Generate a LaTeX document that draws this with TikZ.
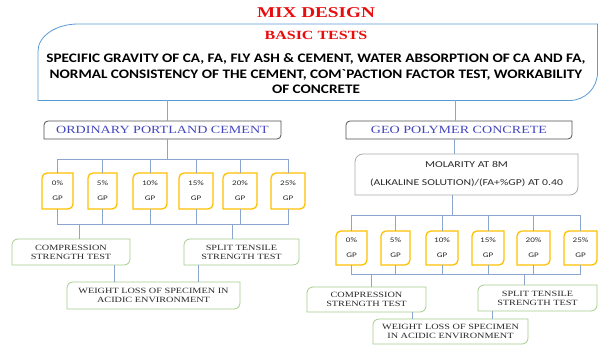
\documentclass[tikz,border=0pt]{standalone}
\usepackage{fontspec}
\setmainfont{Liberation Serif}
\newfontfamily\titlefont[FakeStretch=1.28]{Liberation Serif}
\newfontfamily\labelfont[FakeStretch=1.28]{Liberation Serif}
\newfontfamily\bodyfont[FakeStretch=1.17]{Carlito}
\newfontfamily\smallfont[FakeStretch=1.3]{Carlito}

\definecolor{titlered}{RGB}{232,12,12}
\definecolor{mainblue}{RGB}{91,155,213}
\definecolor{headgray}{RGB}{80,80,80}
\definecolor{headtext}{RGB}{68,70,190}
\definecolor{gold}{RGB}{255,192,0}
\definecolor{leaf}{RGB}{165,205,140}
\definecolor{molgray}{RGB}{170,170,170}
\definecolor{linkblue}{RGB}{140,165,205}
\definecolor{labeltext}{RGB}{40,40,40}

% frame with rounded top-left and bottom-right corners
\newcommand{\diagframe}[3]{%
  \draw[#3] (#1.north east) -- ([xshift=#2]#1.north west)
    arc[start angle=90,end angle=180,radius=#2] -- (#1.south west)
    -- ([xshift=-#2]#1.south east)
    arc[start angle=270,end angle=360,radius=#2] -- cycle;}

\begin{document}
\begin{tikzpicture}[x=1pt,y=-1pt,
  every node/.style={inner sep=0pt,outer sep=0pt},
  link/.style={draw=linkblue,line width=0.8pt},
  headbox/.style={minimum height=18pt,text=headtext,
    font=\labelfont\fontsize{11}{12}\selectfont},
  gpbox/.style={align=center,font=\smallfont\fontsize{7}{15}\selectfont,
    text=labeltext},
  leafbox/.style={align=center,font=\labelfont\fontsize{8}{9}\selectfont,
    text=labeltext},
]
\useasboundingbox (0,0) rectangle (598,345);

% ---------- heading and basic tests ----------
\node[font=\titlefont\bfseries\fontsize{15}{16}\selectfont,text=titlered]
  (title) at (316,13) {MIX DESIGN};
\node[minimum width=559.5pt,minimum height=76.5pt] (bigbox) at (317.75,62.25) {};
\draw[draw=mainblue,line width=0.8pt]
  (bigbox.north east) -- ([xshift=40pt]bigbox.north west)
  arc[start angle=90,end angle=180,x radius=40pt,y radius=27pt]
  -- (bigbox.south west) -- ([xshift=-28pt]bigbox.south east)
  arc[start angle=270,end angle=360,radius=28pt] -- cycle;
\node[font=\titlefont\bfseries\fontsize{12.5}{13}\selectfont,text=titlered]
  (basic) at (316,35) {BASIC TESTS};
\node[align=center,font=\bodyfont\bfseries\fontsize{13}{15.5}\selectfont]
  (tests) at (316,74) {SPECIFIC GRAVITY OF CA, FA, FLY ASH \& CEMENT, WATER ABSORPTION OF CA AND FA,\\
  NORMAL CONSISTENCY OF THE CEMENT, COM\char"60 PACTION FACTOR TEST, WORKABILITY\\
  OF CONCRETE};

% ---------- ordinary portland cement branch ----------
\node[headbox,minimum width=237pt] (opc) at (162.5,130) {ORDINARY PORTLAND CEMENT};
\node[gpbox,minimum width=31pt,minimum height=36pt] (o1) at (57.5,191) {0\%\\GP};
\node[gpbox,minimum width=29pt,minimum height=36pt] (o2) at (102.5,191) {5\%\\GP};
\node[gpbox,minimum width=34pt,minimum height=36pt] (o3) at (150,191) {10\%\\GP};
\node[gpbox,minimum width=34pt,minimum height=36pt] (o4) at (196,191) {15\%\\GP};
\node[gpbox,minimum width=34pt,minimum height=36pt] (o5) at (240,191) {20\%\\GP};
\node[gpbox,minimum width=34pt,minimum height=36pt] (o6) at (288,191) {25\%\\GP};
\node[leafbox,minimum width=118pt,minimum height=26pt] (ocomp) at (71,252)
  {COMPRESSION\\STRENGTH TEST};
\node[leafbox,minimum width=115pt,minimum height=26pt] (osplit) at (241.5,252)
  {SPLIT TENSILE\\STRENGTH TEST};
\node[leafbox,minimum width=173pt,minimum height=27pt] (oweight) at (153.5,295.5)
  {WEIGHT LOSS OF SPECIMEN IN\\ACIDIC ENVIRONMENT};
\coordinate (obusA) at (0,159);
\coordinate (obusB) at (0,224);

% ---------- geo polymer concrete branch ----------
\node[headbox,minimum width=226pt] (gpc) at (459,130) {GEO POLYMER CONCRETE};
\node[align=center,minimum width=223pt,minimum height=41pt,
  font=\smallfont\fontsize{9}{18}\selectfont,text=labeltext] (mol) at (466.5,174.5)
  {MOLARITY AT 8M\\(ALKALINE SOLUTION)/(FA+\%GP) AT 0.40};
\node[gpbox,minimum width=31pt,minimum height=34pt] (g1) at (351.5,248) {0\%\\GP};
\node[gpbox,minimum width=29pt,minimum height=34pt] (g2) at (395.5,248) {5\%\\GP};
\node[gpbox,minimum width=32pt,minimum height=34pt] (g3) at (442,248) {10\%\\GP};
\node[gpbox,minimum width=32pt,minimum height=34pt] (g4) at (488,248) {15\%\\GP};
\node[gpbox,minimum width=33pt,minimum height=34pt] (g5) at (533.5,248) {20\%\\GP};
\node[gpbox,minimum width=33pt,minimum height=34pt] (g6) at (580.5,248) {25\%\\GP};
\node[leafbox,minimum width=119pt,minimum height=25pt] (gcomp) at (366.5,299.5)
  {COMPRESSION\\STRENGTH TEST};
\node[leafbox,minimum width=119pt,minimum height=26pt] (gsplit) at (537.5,298)
  {SPLIT TENSILE\\STRENGTH TEST};
\node[leafbox,minimum width=155pt,minimum height=25pt] (gweight) at (450.5,331.5)
  {WEIGHT LOSS OF SPECIMEN\\IN ACIDIC ENVIRONMENT};
\coordinate (gbusA) at (0,215);
\coordinate (gbusB) at (0,274);

% ---------- frames ----------
\diagframe{opc}{4pt}{draw=headgray,line width=0.8pt}
\diagframe{gpc}{4pt}{draw=headgray,line width=0.8pt}
\diagframe{mol}{8pt}{draw=molgray,line width=0.8pt}
\foreach \n in {o1,o2,o3,o4,o5,o6,g1,g2,g3,g4,g5,g6}
  {\diagframe{\n}{5pt}{draw=gold,line width=1.3pt}}
\foreach \n in {ocomp,osplit,oweight,gcomp,gsplit,gweight}
  {\diagframe{\n}{6pt}{draw=leaf,line width=0.8pt}}

% ---------- connectors: main box ----------
\draw[link] ([xshift=4.5pt]opc.north) -- ([xshift=4.5pt]opc.north |- bigbox.south);
\draw[link] ([xshift=-4pt]gpc.north) -- ([xshift=-4pt]gpc.north |- bigbox.south);

% ---------- connectors: OPC branch ----------
\draw[link] ([xshift=5pt]opc.south) -- ([xshift=5pt]opc.south |- obusA);
\draw[link] (o1.north) -- (o1.north |- obusA) -- (o6.north |- obusA) -- (o6.north);
\foreach \k in {2,...,5} {\draw[link] (o\k.north) -- (o\k.north |- obusA);}
\draw[link] (o1.south) -- (o1.south |- obusB) -- (o6.south |- obusB) -- (o6.south);
\foreach \k in {2,...,5} {\draw[link] (o\k.south) -- (o\k.south |- obusB);}
\draw[link] ([xshift=8pt]ocomp.north) -- ([xshift=8pt]ocomp.north |- obusB);
\draw[link] ([xshift=-9.5pt]osplit.north) -- ([xshift=-9.5pt]osplit.north |- obusB);
\draw[link] ([xshift=43pt]ocomp.south) -- ([xshift=43pt]ocomp.south |- oweight.north);
\draw[link] ([xshift=-43.5pt]osplit.south) -- ([xshift=-43.5pt]osplit.south |- oweight.north);

% ---------- connectors: GPC branch ----------
\draw[link] ([xshift=-5pt]gpc.south) -- ([xshift=-5pt]gpc.south |- mol.north);
\draw[link] ([xshift=-14.5pt]mol.south) -- ([xshift=-14.5pt]mol.south |- gbusA);
\draw[link] (g1.north) -- (g1.north |- gbusA) -- (g6.north |- gbusA) -- (g6.north);
\foreach \k in {2,...,5} {\draw[link] (g\k.north) -- (g\k.north |- gbusA);}
\draw[link] (g1.south) -- (g1.south |- gbusB) -- (g6.south |- gbusB) -- (g6.south);
\foreach \k in {2,...,5} {\draw[link] (g\k.south) -- (g\k.south |- gbusB);}
\draw[link] ([xshift=4.5pt]gcomp.north) -- ([xshift=4.5pt]gcomp.north |- gbusB);
\draw[link] ([xshift=-13.5pt]gsplit.north) -- ([xshift=-13.5pt]gsplit.north |- gbusB);
\draw[link] ([xshift=45.5pt]gcomp.south) -- ([xshift=45.5pt]gcomp.south |- gweight.north);
\draw[link] ([xshift=-45.5pt]gsplit.south) -- ([xshift=-45.5pt]gsplit.south |- gweight.north);
\end{tikzpicture}
\end{document}
